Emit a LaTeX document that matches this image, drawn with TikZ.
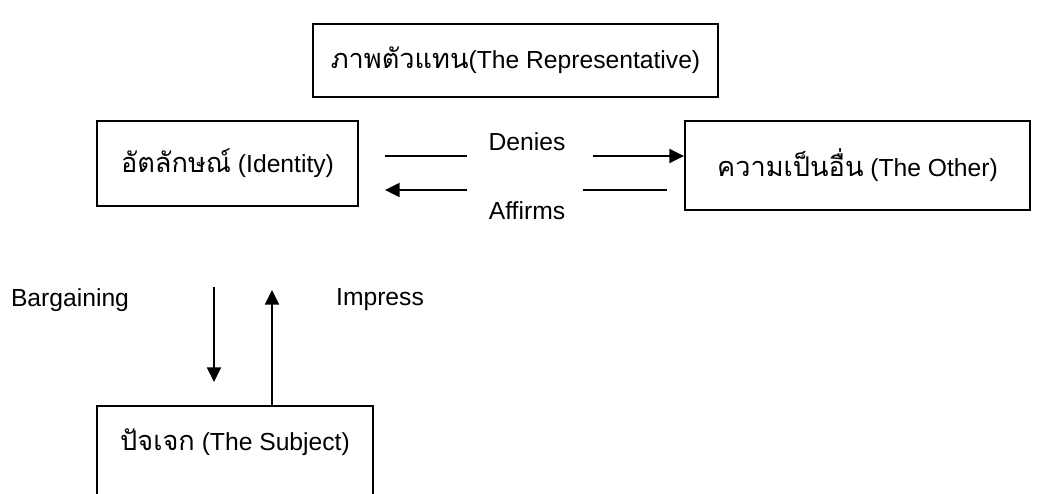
\documentclass[tikz,border=0pt]{standalone}
\usepackage{fontspec}
\setmainfont{Liberation Sans}
\newfontfamily\thaifont[Script=Thai,Scale=1.1]{Loma}
\usetikzlibrary{arrows.meta}
\begin{document}
\begin{tikzpicture}[x=0.75pt,y=-0.75pt,
	every node/.style={font=\fontsize{18.5}{22}\selectfont},
	box/.style={draw,line width=1.4pt,rectangle,inner sep=0pt},
	link/.style={line width=1.4pt},
	arr/.style={line width=1.4pt,-{Triangle[length=11pt,width=10.5pt]}}]
\useasboundingbox (0,0) rectangle (1041,493);
\clip (0,0) rectangle (1041,493);
% boxes
\node[box,minimum width={405*0.75pt},minimum height={73*0.75pt}] (rep) at (515.5,60.5) {{\thaifont ภาพตัวแทน}(The Representative)};
\node[box,minimum width={261*0.75pt},minimum height={85*0.75pt}] (ident) at (227.5,163.5) {{\thaifont อัตลักษณ์} (Identity)};
\node[box,minimum width={345*0.75pt},minimum height={89*0.75pt}] (other) at (857.5,165.5) {{\thaifont ความเป็นอื่น} (The Other)};
\node[box,anchor=north,minimum width={276*0.75pt},minimum height={150*0.75pt}] (subj) at (235,405) {};
\node (subjtext) at (235,442) {{\thaifont ปัจเจก} (The Subject)};
% labels
\node (denies) at (527,142) {Denies};
\node (affirms) at (527,211) {Affirms};
\node (barg) at (70,300) {Bargaining};
\node (impress) at (380,300) {Impress};
% connectors
\coordinate (dn1) at (385,156);
\coordinate (dn2) at (467,156);
\coordinate (dn3) at (593,156);
\coordinate (af1) at (385,190);
\coordinate (af2) at (467,190);
\coordinate (af3) at (583,190);
\coordinate (af4) at (667,190);
\coordinate (bg1) at (214,287);
\coordinate (bg2) at (214,382);
\coordinate (im1) at (272,290);
\draw[link] (dn1) -- (dn2);
\draw[arr] (dn3) -- (dn3 -| other.west);
\draw[arr] (af2) -- (af1);
\draw[link] (af3) -- (af4);
\draw[arr] (bg1) -- (bg2);
\draw[arr] (im1 |- subj.north) -- (im1);
\end{tikzpicture}
\end{document}
